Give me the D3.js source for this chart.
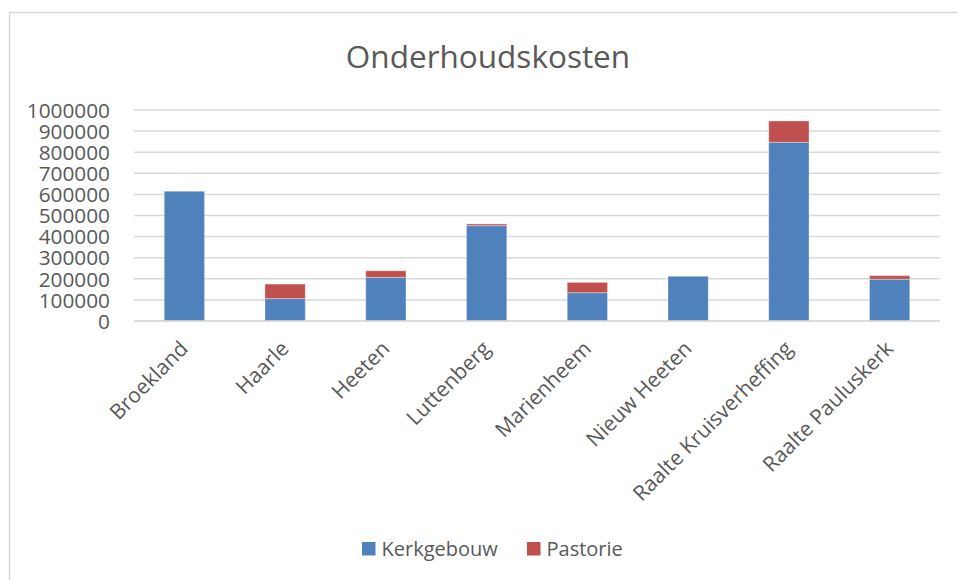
<!DOCTYPE html>
<html>
<head>
<meta charset="utf-8">
<script src="https://cdn.jsdelivr.net/npm/d3@7"></script>
<style>
  html, body { margin: 0; padding: 0; background: #fff; }
  svg text { font-family: "Open Sans", "Liberation Sans", sans-serif; fill: #595959; }
</style>
</head>
<body>
<svg id="chart" width="958" height="580"></svg>
<script>
const categories = ["Broekland", "Haarle", "Heeten", "Luttenberg", "Marienheem", "Nieuw Heeten", "Raalte Kruisverheffing", "Raalte Pauluskerk"];
const kerkgebouw = [615000, 106000, 207000, 452000, 134000, 212000, 847000, 198000];
const pastorie   = [0, 69000, 31000, 8000, 49000, 0, 101000, 17000];
const seriesNames = ["Kerkgebouw", "Pastorie"];
const seriesColors = ["#4f81bd", "#c0504d"];
const yTicks = [0, 100000, 200000, 300000, 400000, 500000, 600000, 700000, 800000, 900000, 1000000];
const chartTitle = "Onderhoudskosten";

const svg = d3.select("#chart");
const W = 958, H = 580;
const plot = { left: 134, right: 940, top: 110, bottom: 321 };

// outer border
svg.append("rect").attr("x", 9.5).attr("y", 12.5).attr("width", W + 20).attr("height", H + 20)
  .attr("fill", "#fff").attr("stroke", "#d9d9d9").attr("stroke-width", 1.5);

// title
svg.append("text").attr("x", 488).attr("y", 67.5).attr("text-anchor", "middle")
  .style("font-size", "31.5px").text(chartTitle);

const x = d3.scaleBand().domain(categories).range([plot.left, plot.right]).paddingInner(0.6).paddingOuter(0.3);
const y = d3.scaleLinear().domain([0, 1000000]).range([plot.bottom, plot.top]);

// gridlines
const grid = svg.append("g");
grid.selectAll("line").data(yTicks).join("line")
  .attr("x1", plot.left).attr("x2", plot.right)
  .attr("y1", d => y(d)).attr("y2", d => y(d))
  .attr("stroke", "#d9d9d9").attr("stroke-width", 1.5);

// y axis labels
const yAxis = d3.axisLeft(y).tickValues(yTicks).tickFormat(d3.format("d")).tickSize(0).tickPadding(0);
const yg = svg.append("g").attr("transform", `translate(${110},0)`).call(yAxis);
yg.select(".domain").remove();
yg.selectAll("text").style("font-size", "20.8px").attr("fill", "#595959").attr("dy", "0.35em")
  .style("font-family", "\"Open Sans\", sans-serif");

// stacked data
const rows = categories.map((c, i) => ({ cat: c, Kerkgebouw: kerkgebouw[i], Pastorie: pastorie[i] }));
const stack = d3.stack().keys(seriesNames)(rows);

svg.append("g").selectAll("g").data(stack).join("g")
  .attr("fill", (d, i) => seriesColors[i])
  .selectAll("rect").data(d => d.filter(p => p[1] - p[0] > 0)).join("rect")
  .attr("x", d => x(d.data.cat))
  .attr("width", x.bandwidth())
  .attr("y", d => y(d[1]))
  .attr("height", d => y(d[0]) - y(d[1]))
  .attr("stroke", "#ffffff").attr("stroke-opacity", 0.35).attr("stroke-width", 1);

// baseline
svg.append("line").attr("x1", plot.left).attr("x2", plot.right)
  .attr("y1", y(0)).attr("y2", y(0)).attr("stroke", "#d9d9d9").attr("stroke-width", 1.5);

// x axis labels
const xAxis = d3.axisBottom(x).tickSize(0).tickPadding(0);
const xg = svg.append("g").attr("transform", `translate(0,${plot.bottom})`).call(xAxis);
xg.select(".domain").remove();
xg.selectAll("text")
  .style("font-size", "21px").attr("fill", "#595959")
  .style("font-family", "\"Open Sans\", sans-serif")
  .attr("text-anchor", "end")
  .attr("dy", 0).attr("y", 0)
  .attr("transform", "translate(5,29) rotate(-45)");

// legend
const legend = svg.append("g").attr("transform", "translate(362,542)");
const items = [{ name: seriesNames[0], x: 0 }, { name: seriesNames[1], x: 165 }];
items.forEach((it, i) => {
  legend.append("rect").attr("x", it.x).attr("y", 0).attr("width", 13.5).attr("height", 13.5).attr("fill", seriesColors[i]);
  legend.append("text").attr("x", it.x + 19.5).attr("y", 14).style("font-size", "20px").text(it.name);
});
</script>
</body>
</html>
